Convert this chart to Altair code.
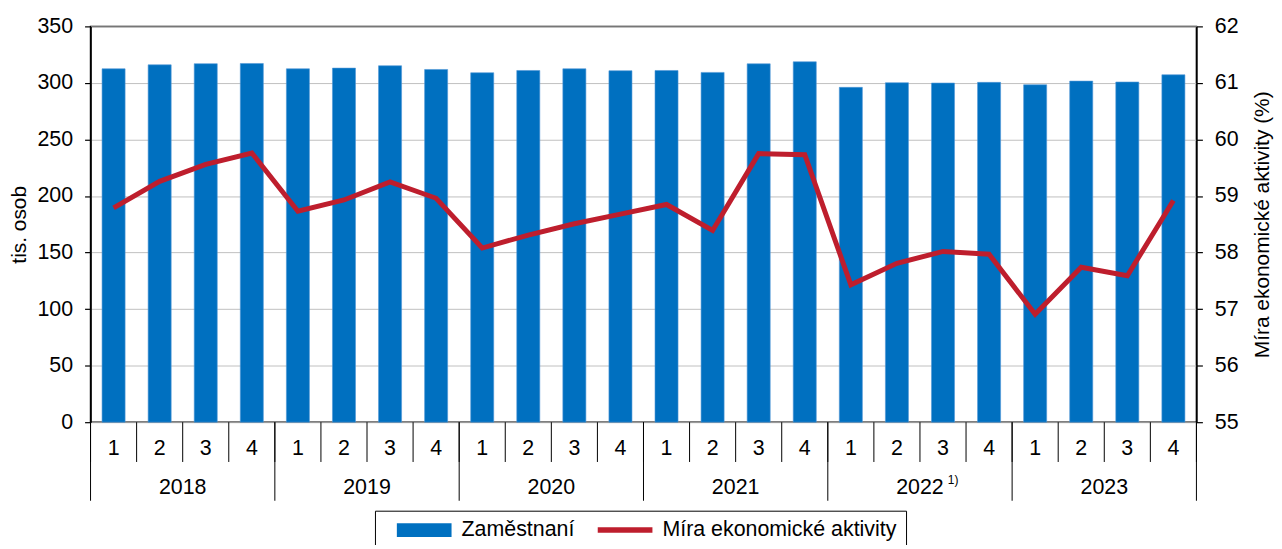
import altair as alt
import pandas as pd

# ---- data ----
years = ["2018", "2019", "2020", "2021", "2022", "2023"]
year_notes = ["", "", "", "", "1)", ""]
quarters = ["1", "2", "3", "4"]
employed = [312.5, 316.0, 317.0, 317.2,
            312.5, 313.1, 315.2, 311.9,
            309.0, 311.0, 312.5, 310.8,
            311.0, 309.3, 316.9, 318.7,
            296.1, 300.2, 299.9, 300.5,
            298.4, 301.6, 300.8, 307.2]
activity_rate = [58.79, 59.26, 59.56, 59.76,
                 58.73, 58.93, 59.25, 58.96,
                 58.08, 58.31, 58.51, 58.68,
                 58.85, 58.39, 59.75, 59.73,
                 57.43, 57.81, 58.02, 57.97,
                 56.91, 57.74, 57.59, 58.92]
left_ticks = [0, 50, 100, 150, 200, 250, 300, 350]
right_ticks = [55, 56, 57, 58, 59, 60, 61, 62]
series_names = ["Zaměstnaní", "Míra ekonomické aktivity"]

BLUE = "#0070C0"
RED = "#BE1E2D"
FONT = "Liberation Sans"
FS = 21.5

n_q = len(quarters)
n = len(years) * n_q

rows = []
for i in range(n):
    rows.append({
        "idx": i,
        "x0": i + 0.25,
        "x1": i + 0.75,
        "xc": i + 0.5,
        "quarter": quarters[i % n_q],
        "employed": employed[i],
        "rate": activity_rate[i],
        "series": series_names[0],
    })
df = pd.DataFrame(rows)

bounds = pd.DataFrame({"b": list(range(n + 1))})
ybounds = pd.DataFrame({"b": list(range(0, n + 1, n_q))})
ydf = pd.DataFrame({
    "year": years,
    "note": year_notes,
    "xc": [k * n_q + n_q / 2 for k in range(len(years))],
})

xscale = alt.Scale(domain=[0, n], nice=False, zero=False)

bars = alt.Chart(df).mark_bar(stroke="#4F97D6", strokeWidth=0.6).encode(
    x=alt.X("x0:Q", scale=xscale, axis=None),
    x2="x1:Q",
    y=alt.Y("employed:Q",
            scale=alt.Scale(domain=[0, 350], nice=False, zero=True),
            axis=alt.Axis(values=left_ticks, title="tis. osob", grid=True,
                          gridColor="#C0C0C0", gridWidth=1, titlePadding=8,
                          titleFontSize=21)),
    y2=alt.datum(0),
    color=alt.Color("series:N",
                    scale=alt.Scale(domain=series_names, range=[BLUE, RED]),
                    legend=alt.Legend(
                        orient="none", legendX=286, legendY=487,
                        direction="horizontal", title=None,
                        strokeColor="black", fillColor="white",
                        padding=9, clipHeight=21,
                        symbolType={"expr": "datum.value == 'Zaměstnaní' ? 'M-1,-0.25H1V0.25H-1Z' : 'M-1,-0.1H1V0.1H-1Z'"},
                        symbolSize=3025, symbolStrokeWidth=0, symbolOffset=13,
                        symbolOpacity=1,
                        labelOffset=10, columnPadding=10,
                        labelFont=FONT, labelFontSize=FS, labelColor="black",
                        labelLimit=400)),
)

line = alt.Chart(df).mark_line(color=RED, strokeWidth=5).encode(
    x=alt.X("xc:Q", scale=xscale, axis=None),
    y=alt.Y("rate:Q",
            scale=alt.Scale(domain=[55, 62], nice=False, zero=False),
            axis=alt.Axis(orient="right", values=right_ticks, grid=False,
                          title="Míra ekonomické aktivity (%)",
                          titleAngle=270, titleBaseline="top", titlePadding=14,
                          titleFontSize=21)),
)

q_rules = alt.Chart(bounds).mark_rule(color="black", strokeWidth=1).encode(
    x=alt.X("b:Q", scale=xscale, axis=None),
    y=alt.value(398), y2=alt.value(438),
)
y_rules = alt.Chart(ybounds).mark_rule(color="black", strokeWidth=1).encode(
    x=alt.X("b:Q", scale=xscale, axis=None),
    y=alt.value(398), y2=alt.value(477),
)
q_text = alt.Chart(df).mark_text(font=FONT, fontSize=FS, color="black",
                                 baseline="middle", align="center").encode(
    x=alt.X("xc:Q", scale=xscale, axis=None),
    y=alt.value(425),
    text="quarter:N",
)
y_text = alt.Chart(ydf).mark_text(font=FONT, fontSize=FS, color="black",
                                  baseline="middle", align="center").encode(
    x=alt.X("xc:Q", scale=xscale, axis=None),
    y=alt.value(464),
    text="year:N",
)
note_text = alt.Chart(ydf).mark_text(font=FONT, fontSize=12, color="black",
                                     baseline="middle", align="left",
                                     dx=28, dy=-8).encode(
    x=alt.X("xc:Q", scale=xscale, axis=None),
    y=alt.value(464),
    text="note:N",
)

chart = alt.layer(bars, line, q_rules, y_rules, q_text, y_text, note_text).resolve_scale(
    y="independent"
).properties(
    width=1112, height=398,
    autosize=alt.AutoSizeParams(type="none"),
    padding={"left": 83, "top": 17, "right": 78, "bottom": 122},
).configure_view(
    stroke="black", strokeWidth=1.5
).configure_axis(
    labelFont=FONT, labelFontSize=FS, labelColor="black",
    titleFont=FONT, titleFontSize=FS, titleFontWeight="normal", titleColor="black",
    tickColor="black", tickSize=6, tickWidth=1.2, labelPadding=12,
    domainColor="black", domainWidth=1.5,
)

chart.save("out.html", embed_options={"renderer": "svg", "actions": False})
